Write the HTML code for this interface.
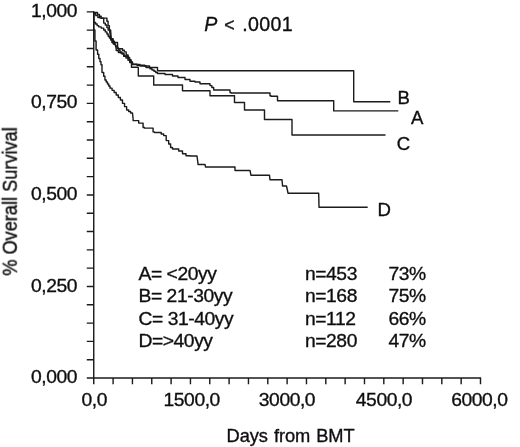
<!DOCTYPE html>
<html><head><meta charset="utf-8">
<style>
html,body{margin:0;padding:0;background:#fff;}
svg{display:block;}
text{font-family:"Liberation Sans",sans-serif;fill:#111;stroke:#111;stroke-width:0.35px;}
</style></head><body>
<svg width="520" height="447" viewBox="0 0 520 447">
<defs><filter id="bl" x="-2%" y="-2%" width="104%" height="104%"><feGaussianBlur stdDeviation="0.4"/></filter></defs>
<rect width="520" height="447" fill="#fff"/>
<g filter="url(#bl)">
<g stroke="#1a1a1a" stroke-width="1.4" fill="none">
<path d="M93.75,11.2V378H481.1"/>
<path d="M86.8,11.85H93.75M86.8,30.16H93.75M86.8,48.47H93.75M86.8,66.77H93.75M86.8,85.08H93.75M86.8,103.39H93.75M86.8,121.69H93.75M86.8,140.00H93.75M86.8,158.31H93.75M86.8,176.62H93.75M86.8,194.93H93.75M86.8,213.23H93.75M86.8,231.54H93.75M86.8,249.85H93.75M86.8,268.16H93.75M86.8,286.46H93.75M86.8,304.77H93.75M86.8,323.08H93.75M86.8,341.39H93.75M86.8,359.69H93.75M86.8,378.00H93.75"/>
<path d="M93.75,378V384.2M113.09,378V384.2M132.43,378V384.2M151.76,378V384.2M171.10,378V384.2M190.44,378V384.2M209.77,378V384.2M229.11,378V384.2M248.45,378V384.2M267.79,378V384.2M287.12,378V384.2M306.46,378V384.2M325.80,378V384.2M345.14,378V384.2M364.47,378V384.2M383.81,378V384.2M403.15,378V384.2M422.49,378V384.2M441.82,378V384.2M461.16,378V384.2M480.50,378V384.2"/>
</g>
<g stroke="#1a1a1a" stroke-width="1.4" fill="none" stroke-linejoin="round">
<path d="M93.75,11.90V12.50H97.50V14.35H99.35V16.20H101.20V18.10H106.90V21.20H108.10V25.60H109.35V30.00H110.60L111.20,37.50V39.35H112.80V41.20H114.40V42.50H117.50L117.70,47.50V48.70H122.50V50.30H124.35V51.90H126.20V55.00H128.10V57.33H129.57V59.67H131.03V62.00H132.50V64.20H137.00V65.20H144.80V66.00H149.50V67.50H154.20H157.50V70.80H353.70V101.80H390.30"/>
<path d="M93.75,11.90V13.77H95.83V15.63H97.92V17.50H100.00V18.10H103.70V21.20V23.10H105.30V25.00H106.90V27.50H108.15V30.00H109.40L110.60,37.50V38.70H113.10V43.70H115.00L116.20,48.70V50.60H118.40V52.50H120.60V53.10H123.70V56.20H125.00H128.00V58.30H129.50V60.40H131.00V62.50H132.50V64.50H140.00V66.00H146.00V67.50H150.00V68.75H152.00V70.00H154.00V71.25H155.75V72.50H157.50V73.50H165.00V74.50H172.50V76.00H178.00V77.50H185.00V79.50H190.00V81.20H195.00V82.00H200.00V83.70H207.50H210.00V85.60H211.85V87.50H213.70V90.00H216.00H230.00V92.50H231.00V93.00H270.00V95.70H271.00V96.20H277.50V100.70H278.70H333.70V110.90H398.30"/>
<path d="M93.75,11.90V22.50H95.60V24.05H97.15V25.60H98.70V26.85H101.20V28.10H103.70V30.00H105.30V31.90H106.90V34.05H108.15V36.20H109.40V38.10H110.65V40.00H111.90V42.50H114.00V44.25H115.50V46.00H117.00V48.00H118.50V50.00H120.00V52.00H122.00V54.00H124.00V56.00H126.00V58.00H128.00V60.25H129.75V62.50H131.50V67.20H138.30V76.00H153.70V85.00H182.50V90.70H210.00V95.70H234.50V102.50H244.50V110.00H264.50V119.50H292.00V135.00H385.50"/>
<path d="M93.75,11.90V30.00H94.90V41.00H96.10V50.00H97.60V54.25H98.80V58.50H100.00V61.65H101.00V64.80H102.00V72.50H103.70V76.25H104.95V80.00H106.20V82.00H107.47V84.00H108.73V86.00H110.00V88.17H112.07V90.33H114.13V92.50H116.20V95.00H118.30V97.50H120.40V100.00H122.50V103.33H124.57V106.67H126.63V110.00H128.70V111.50H130.60V113.00H132.50L133.10,118.70V120.60H138.70V123.10H143.10V127.50H144.40V128.10H153.10V131.90H154.40V132.50H161.20V134.05H163.70V135.60H166.20V140.60H168.70V144.05H170.60V147.50H172.50V149.00H178.70V151.00H182.50V153.70H186.00V155.70H190.00V156.00H197.00L198.00,163.70V164.50H205.00L205.50,166.70V167.00H235.00V170.50H236.00H250.00L251.00,175.30H269.50L270.00,179.80H282.00L282.50,185.20V186.00H286.50L288.00,193.00V193.20H318.70L319.00,207.30H367.70"/>
</g>
<g font-size="19.3" letter-spacing="-0.45" transform="scale(1,0.98)">
<text x="77.10" y="17.24" text-anchor="end">1,000</text>
<text x="77.10" y="110.66" text-anchor="end">0,750</text>
<text x="77.10" y="204.08" text-anchor="end">0,500</text>
<text x="77.10" y="297.50" text-anchor="end">0,250</text>
<text x="77.10" y="390.92" text-anchor="end">0,000</text>
<text x="94.30" y="414.59" text-anchor="middle">0,0</text>
<text x="191.70" y="414.59" text-anchor="middle">1500,0</text>
<text x="287.00" y="414.59" text-anchor="middle">3000,0</text>
<text x="384.00" y="414.59" text-anchor="middle">4500,0</text>
<text x="479.40" y="414.59" text-anchor="middle">6000,0</text>
<text x="226.60" y="450.61" font-size="18.3" letter-spacing="-0.1" word-spacing="1.1">Days from BMT</text>
<text x="397.50" y="105.82" font-size="18.6">B</text>
<text x="411.10" y="126.53" font-size="18.6">A</text>
<text x="396.70" y="153.06" font-size="18.6">C</text>
<text x="377.40" y="220.10" font-size="18.6">D</text>
<text x="138.50" y="285.41">A= &lt;20yy</text>
<text x="305.00" y="285.41">n=453</text>
<text x="388.50" y="285.41">73%</text>
<text x="138.50" y="308.27">B= 21-30yy</text>
<text x="305.00" y="308.27">n=168</text>
<text x="388.50" y="308.27">75%</text>
<text x="138.50" y="331.73">C= 31-40yy</text>
<text x="305.00" y="331.73">n=112</text>
<text x="388.50" y="331.73">66%</text>
<text x="138.50" y="354.18">D=&gt;40yy</text>
<text x="305.00" y="354.18">n=280</text>
<text x="388.50" y="354.18">47%</text>
</g>
<text font-size="19.6" y="31.2"><tspan x="204.2" font-style="italic">P</tspan><tspan x="224.2" font-size="17.8">&lt;</tspan><tspan x="242.3" letter-spacing="0.35">.0001</tspan></text>
<text font-size="18.2" transform="translate(16.3,275.7) rotate(-90) scale(1,1.09)">% Overall Survival</text>
</g>
</svg>
</body></html>
